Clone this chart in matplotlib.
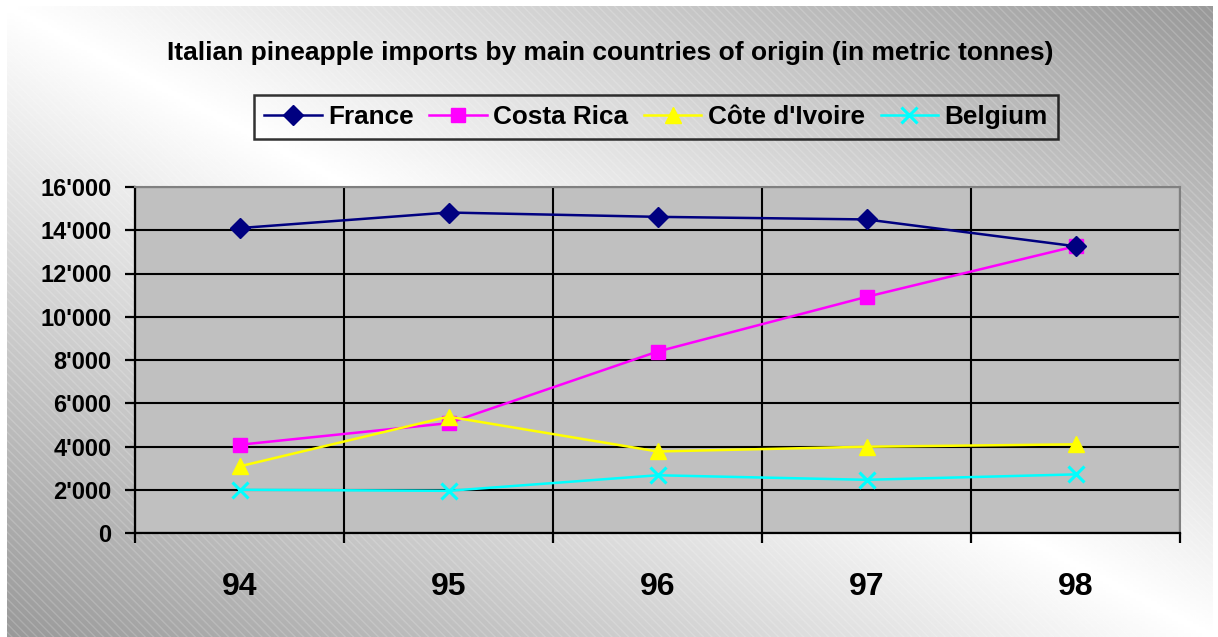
import numpy as np
import matplotlib
matplotlib.use("Agg")
import matplotlib.pyplot as plt
from matplotlib.patches import Rectangle

plt.rcParams["font.family"] = ["Liberation Sans", "DejaVu Sans"]
plt.rcParams["font.weight"] = "bold"

# Italian pineapple imports (metric tonnes) by origin
years = ["94", "95", "96", "97", "98"]
france = [14100, 14820, 14620, 14500, 13260]
costa_rica = [4080, 5080, 8390, 10920, 13260]
cote_divoire = [3080, 5380, 3770, 3990, 4100]
belgium = [2000, 1950, 2670, 2460, 2710]

W, H = 1218, 637
fig = plt.figure(figsize=(W / 100, H / 100), dpi=100)
fig.patch.set_facecolor("white")

# diagonal grey/white gradient behind the chart
bg = fig.add_axes([7 / W, 0, (W - 12) / W, (H - 6) / H], zorder=0)
u = np.linspace(0, 1, 400)[None, :]
v = np.linspace(0, 1, 220)[:, None]
shade = 1 - 0.40 * np.abs(u - v)
bg.imshow(shade, cmap="gray", vmin=0, vmax=1, aspect="auto",
          extent=[0, 1, 0, 1], origin="upper")
bg.add_patch(Rectangle((0, 0), 1, 1, transform=bg.transAxes, facecolor="none",
                       edgecolor=(1, 1, 1, 0.18), hatch="\\\\\\\\", lw=0))
bg.set_axis_off()

ax = fig.add_axes([135 / W, 1 - 533 / H, 1045 / W, 346 / H], zorder=1)
ax.set_facecolor("#C0C0C0")
x = np.arange(len(years))

ax.plot(x, france, color="#000080", lw=1.8, marker="D", ms=10, label="France", zorder=5)
ax.plot(x, costa_rica, color="#FF00FF", lw=1.8, marker="s", ms=10, label="Costa Rica", zorder=4)
ax.plot(x, cote_divoire, color="#FFFF00", lw=1.8, marker="^", ms=11, label="Côte d'Ivoire", zorder=4)
ax.plot(x, belgium, color="#00FFFF", lw=1.8, marker="x", ms=11, mew=2.2, label="Belgium", zorder=4)

ax.set_xlim(-0.5, 4.5)
ax.set_ylim(0, 16000)
ax.set_yticks(np.arange(0, 16001, 2000))
ax.set_yticklabels([f"{v:,}".replace(",", "'") for v in range(0, 16001, 2000)])
ax.set_xticks(np.arange(-0.5, 4.6, 1))
ax.set_xticklabels([])
ax.set_xticks(x, minor=True)
ax.set_xticklabels(years, minor=True, fontsize=23, fontweight="bold")
ax.tick_params(axis="x", which="minor", length=0, pad=28)
ax.tick_params(axis="x", which="major", length=7, width=1.6, direction="out")
ax.tick_params(axis="y", length=7, width=1.6, direction="out", labelsize=17, pad=10)

ax.grid(True, which="major", color="black", lw=1.5)
ax.set_axisbelow(True)
for side in ("left", "bottom"):
    ax.spines[side].set_color("black")
    ax.spines[side].set_linewidth(1.6)
for side in ("top", "right"):
    ax.spines[side].set_color("#808080")
    ax.spines[side].set_linewidth(1.5)

fig.text(610 / W, 1 - 53 / H,
         "Italian pineapple imports by main countries of origin (in metric tonnes)",
         ha="center", va="center", fontsize=19, fontweight="bold")

leg = fig.legend(loc="center", bbox_to_anchor=(656 / W, 1 - 117 / H), ncol=4,
                 prop={"size": 18.8, "weight": "bold"}, frameon=True, fancybox=False,
                 handlelength=2.2, handletextpad=0.25, columnspacing=0.6,
                 borderpad=0.4, borderaxespad=0)
leg.get_frame().set_edgecolor("black")
leg.get_frame().set_linewidth(1.8)
leg.get_frame().set_facecolor("none")

fig.savefig("out.png", dpi=100)
